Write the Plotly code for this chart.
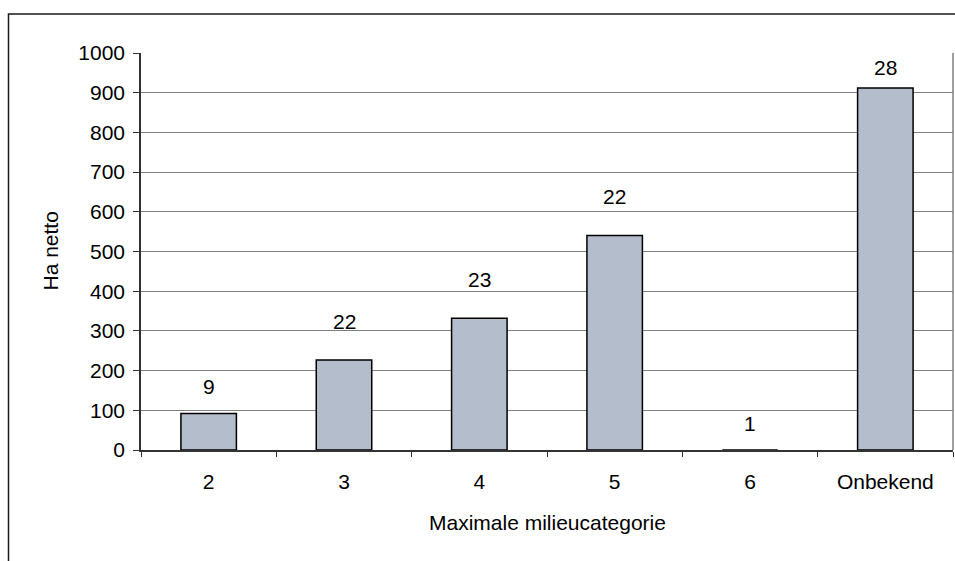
import plotly.graph_objects as go

# Hectares per maximum environmental category, with the number of sites above each bar
categories = ["2", "3", "4", "5", "6", "Onbekend"]
hectares = [92, 227, 332, 540, 0, 912]
site_counts = [9, 22, 23, 22, 1, 28]

y_ticks = list(range(0, 1001, 100))

# pixel gap between bar top and the count label (centre)
label_gaps = [27, 38, 39, 39, 27, 20]

FONT = "Liberation Sans, Arial, sans-serif"
FS = 21

W, H = 955, 561
L, R, T, B = 141, 2, 53, 111
PW, PH = W - L - R, H - T - B

fig = go.Figure()
fig.add_trace(go.Bar(
    x=categories,
    y=hectares,
    width=0.41,
    marker=dict(color="#B3BDCB", line=dict(color="#000000", width=1.5)),
    hoverinfo="x+y",
))

# count labels, placed by category position
for i, (val, cnt, gap) in enumerate(zip(hectares, site_counts, label_gaps)):
    fig.add_annotation(
        x=i, y=val, text=str(cnt), showarrow=False,
        yanchor="middle", yshift=gap,
        font=dict(family=FONT, size=FS, color="#000000"),
    )

# axis titles
fig.add_annotation(
    x=(50 - L) / PW, y=0.5, xref="paper", yref="paper",
    text="Ha netto", textangle=-90, showarrow=False,
    xanchor="center", yanchor="middle",
    font=dict(family=FONT, size=FS, color="#000000"),
)
fig.add_annotation(
    x=0.5, y=-(522 - (H - B)) / PH, xref="paper", yref="paper",
    text="Maximale milieucategorie", showarrow=False,
    xanchor="center", yanchor="middle",
    font=dict(family=FONT, size=FS, color="#000000"),
)

# outer chart frame
fig.add_shape(
    type="rect", xref="paper", yref="paper",
    x0=(8.5 - L) / PW, x1=1.2, y0=-0.5, y1=1 + (T - 14) / PH,
    line=dict(color="#1a1a1a", width=1.5), layer="below",
)
# plot-area border on the right
fig.add_shape(
    type="line", xref="paper", yref="paper",
    x0=1, x1=1, y0=0, y1=1,
    line=dict(color="#808080", width=1.5),
)

fig.update_layout(
    width=W, height=H,
    margin=dict(l=L, r=R, t=T, b=B),
    paper_bgcolor="white", plot_bgcolor="white",
    showlegend=False,
    font=dict(family=FONT, size=FS, color="#000000"),
    xaxis=dict(
        type="category",
        range=[-0.5, len(categories) - 0.5],
        tickson="boundaries",
        ticks="outside", ticklen=5, tickcolor="#333333", tickwidth=1,
        showline=True, linecolor="#333333", linewidth=1.5,
        showgrid=False,
        ticklabelstandoff=12,
        tickfont=dict(family=FONT, size=FS, color="#000000"),
    ),
    yaxis=dict(
        range=[0, 1000],
        tickvals=y_ticks,
        ticks="outside", ticklen=6, tickcolor="#333333", tickwidth=1,
        showline=True, linecolor="#333333", linewidth=1.5,
        showgrid=True, gridcolor="#808080", gridwidth=1,
        zeroline=False,
        ticklabelstandoff=4,
        tickfont=dict(family=FONT, size=FS, color="#000000"),
    ),
)

fig.write_html("out.html")
